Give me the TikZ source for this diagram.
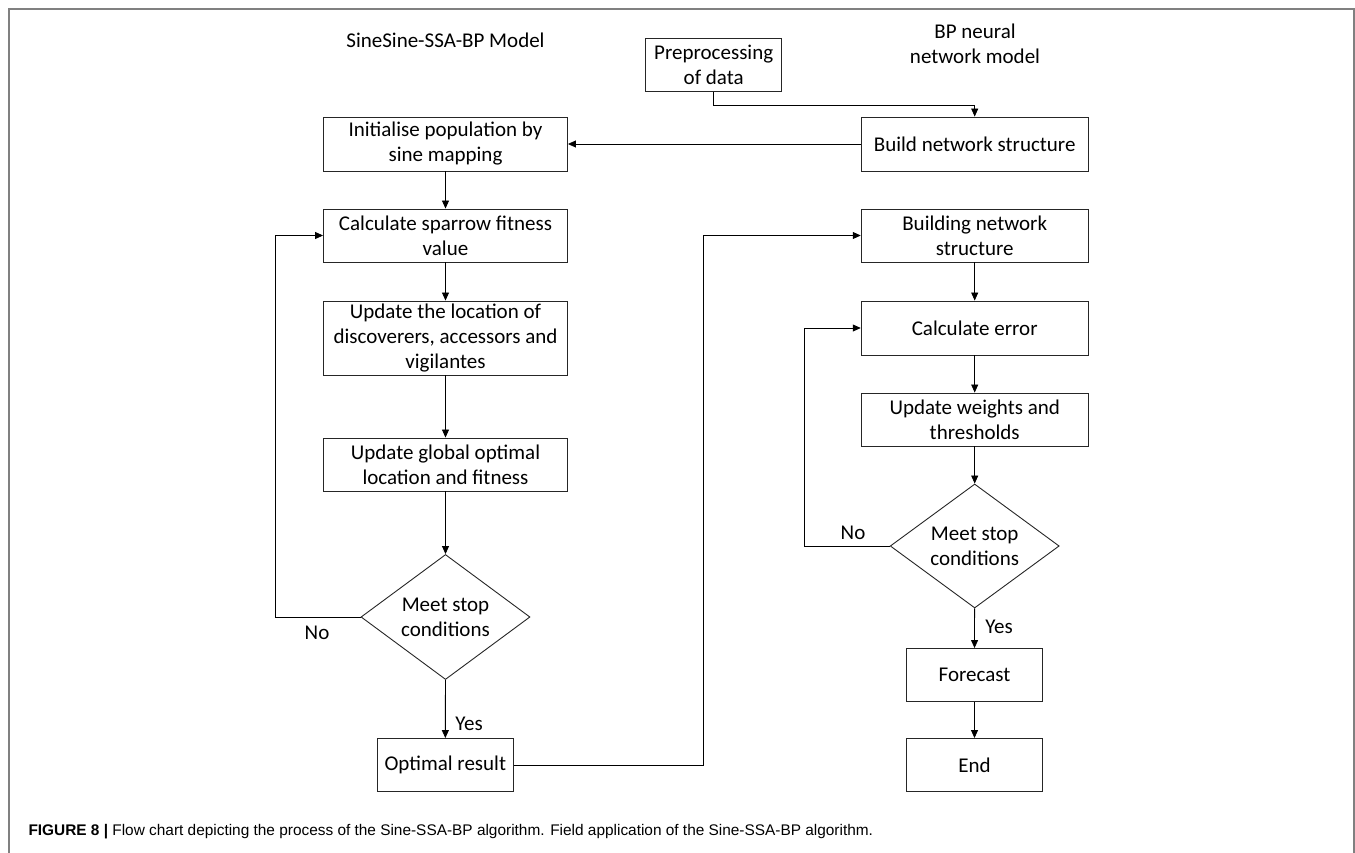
\documentclass[tikz,border=0pt]{standalone}
\usepackage{fontspec}
\setmainfont{Carlito}
\newfontfamily\capfont{Liberation Sans}
\usetikzlibrary{shapes.geometric,arrows.meta}

\begin{document}
\begin{tikzpicture}[x=1pt,y=-1pt,
    box/.style={draw=black!85,line width=0.9pt,rectangle,align=center,inner sep=2pt,font=\fontsize{21}{25}\selectfont},
    wide/.style={box,minimum width=244pt,minimum height=53pt},
    wider/.style={box,minimum width=227pt,minimum height=53pt},
    small/.style={box,minimum width=136pt,minimum height=53pt},
    decision/.style={draw=black!85,line width=0.9pt,diamond,shape aspect=1.35,inner sep=0pt,minimum width=169pt,minimum height=125pt,align=center,font=\fontsize{21}{25}\selectfont},
    lbl/.style={font=\fontsize{21}{25}\selectfont},
    arr/.style={-{Triangle[length=8pt,width=7pt]},line width=0.8pt}]
    \useasboundingbox (0,0) rectangle (1355,853);
    \draw[gray,line width=1.3pt] (9,853) -- (9,9) -- (1354,9) -- (1354,853);

    \node[lbl] (ssatitle) at (445.5,40) {SineSine-SSA-BP Model};
    \node[lbl,align=center] (bptitle) at (975,44) {BP neural\\network model};

    \node[small] (prep) at (713.7,65) {Preprocessing\\of data};
    \node[wider,minimum height=54pt] (build) at (974.7,144) {Build network structure};

    \node[wide,minimum height=54pt] (init) at (445.5,144) {Initialise population by\\sine mapping};
    \node[wide] (calc) at (445.5,235.5) {Calculate sparrow fitness\\value};
    \node[wide,minimum height=74pt] (upd) at (445.5,338) {Update the location of\\discoverers, accessors and\\vigilantes};
    \node[wide] (glob) at (445.5,464.5) {Update global optimal\\location and fitness};
    \node[decision] (stopl) at (445.5,617) {Meet stop\\conditions};
    \node[small] (opt) at (445.3,765) {Optimal result};

    \node[wider] (bnet) at (974.7,235.5) {Building network\\structure};
    \node[wider,minimum height=54pt] (err) at (974.7,328) {Calculate error};
    \node[wider] (wts) at (974.7,419.5) {Update weights and\\thresholds};
    \node[decision,minimum height=124pt] (stopr) at (974.7,546) {Meet stop\\conditions};
    \node[small] (fore) at (974.5,675) {Forecast};
    \node[small] (endn) at (974.5,765) {End};

    \node[lbl] (nol) at (317,633) {No};
    \node[lbl] (yesl) at (469,724) {Yes};
    \node[lbl] (nor) at (853,532.5) {No};
    \node[lbl] (yesr) at (999,626.5) {Yes};

    \draw[arr] (prep.south) -- ++(0,13) -| (build.north);
    \draw[arr] (build.west) -- (init.east);
    \draw[arr] (init) -- (calc);
    \draw[arr] (calc) -- (upd);
    \draw[arr] (upd) -- (glob);
    \draw[arr] (glob) -- (stopl);
    \draw[arr] (stopl) -- (opt);
    \draw[arr] (stopl.west) -- ++(-85.5,0) |- (calc.west);
    \draw[arr] (opt.east) -- ++(190,0) |- (bnet.west);
    \draw[arr] (bnet) -- (err);
    \draw[arr] (err) -- (wts);
    \draw[arr] (wts) -- (stopr);
    \draw[arr] (stopr) -- (fore);
    \draw[arr] (fore) -- (endn);
    \draw[arr] (stopr.west) -- ++(-85,0) |- (err.west);

    \node[anchor=base west,font=\capfont\fontsize{15.4}{18}\selectfont] (cap) at (25,835) {\textbf{FIGURE 8 |} Flow chart depicting the process of the Sine-SSA-BP algorithm. Field application of the Sine-SSA-BP algorithm.};
\end{tikzpicture}
\end{document}
